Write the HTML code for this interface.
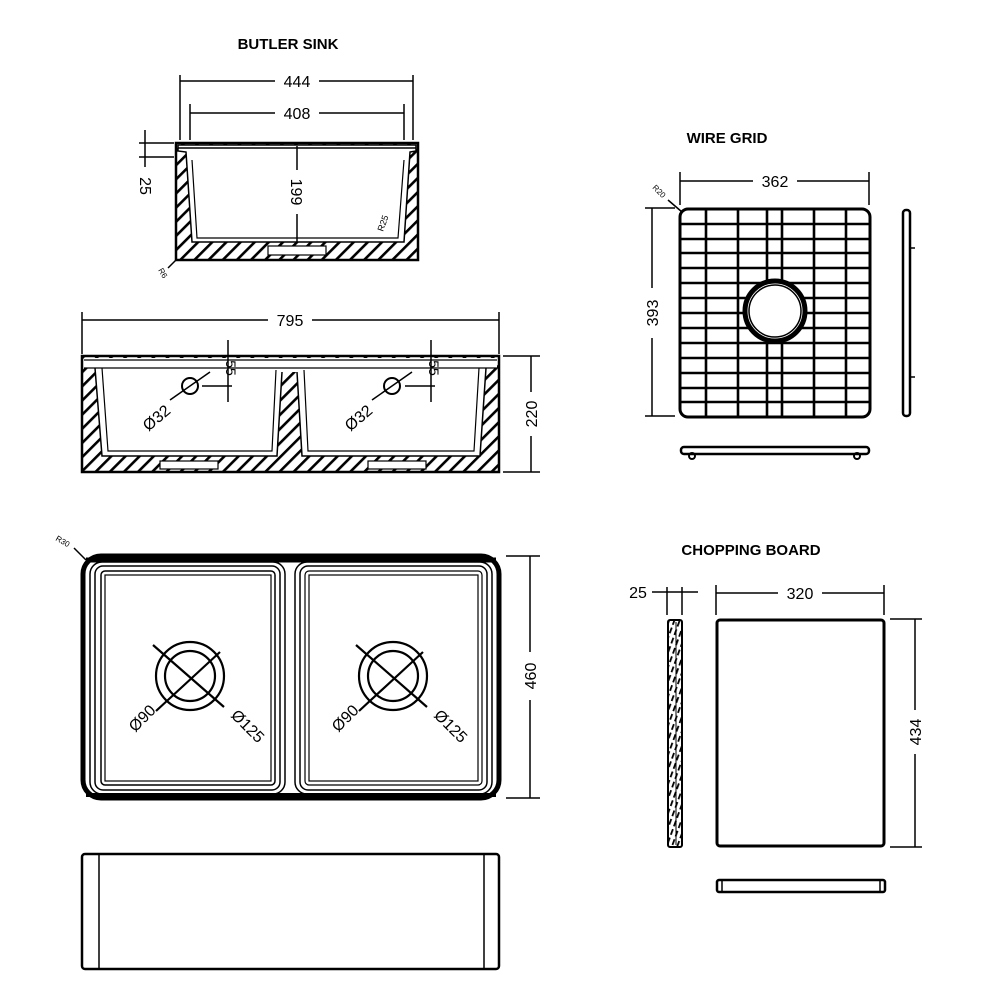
<!DOCTYPE html>
<html><head><meta charset="utf-8"><style>
html,body{margin:0;padding:0;background:#fff;}
svg{display:block;}
text{font-family:"Liberation Sans",Arial,sans-serif;fill:#000;}
</style></head><body>
<svg width="1000" height="1000" viewBox="0 0 1000 1000" xmlns="http://www.w3.org/2000/svg">
<defs>
<pattern id="h" width="10" height="10" patternUnits="userSpaceOnUse" patternTransform="rotate(45)">
<rect width="10" height="10" fill="#fff"/><rect x="0" y="0" width="2.6" height="10" fill="#000"/>
</pattern>
<pattern id="h2" width="5" height="9" patternUnits="userSpaceOnUse" patternTransform="rotate(20)">
<rect width="5" height="9" fill="#fff"/><rect x="0" y="0" width="1.8" height="6" fill="#000"/>
</pattern>
</defs>
<g stroke="#000" fill="none" stroke-width="1.5">

<text x="288" y="49" font-size="15" font-weight="bold" text-anchor="middle" stroke="none">BUTLER SINK</text>
<text x="727" y="143" font-size="15" font-weight="bold" text-anchor="middle" stroke="none">WIRE GRID</text>
<text x="751" y="555" font-size="15" font-weight="bold" text-anchor="middle" stroke="none">CHOPPING BOARD</text>

<g font-size="16">
<!-- ===== Butler single section ===== -->
<line x1="180" y1="75" x2="180" y2="140"/><line x1="413" y1="75" x2="413" y2="140"/>
<line x1="180" y1="81" x2="275" y2="81"/><line x1="319" y1="81" x2="413" y2="81"/>
<text x="297" y="87" text-anchor="middle" stroke="none">444</text>
<line x1="190" y1="104" x2="190" y2="140"/><line x1="404" y1="104" x2="404" y2="140"/>
<line x1="190" y1="113" x2="275" y2="113"/><line x1="319" y1="113" x2="404" y2="113"/>
<text x="297" y="119" text-anchor="middle" stroke="none">408</text>
<rect x="176" y="143" width="242" height="117" fill="url(#h)" stroke-width="2.5"/>
<path d="M178,145 L416,145 L416,151 L410,152 L404,242 L192,242 L186,152 L178,151 Z" fill="#fff" stroke-width="1.5"/>
<line x1="178" y1="148" x2="416" y2="148"/>
<path d="M192,160 L197,238 L398,238 L404,160" stroke-width="1.2"/>
<rect x="268" y="246" width="58" height="9" fill="#fff" stroke-width="1.2"/>
<line x1="297" y1="146" x2="297" y2="170"/><line x1="297" y1="214" x2="297" y2="242"/>
<text transform="translate(291,192) rotate(90)" text-anchor="middle" stroke="none">199</text>
<line x1="145" y1="130" x2="145" y2="167"/><line x1="139" y1="143" x2="174" y2="143"/><line x1="139" y1="157" x2="174" y2="157"/>
<text transform="translate(140,186) rotate(90)" text-anchor="middle" stroke="none">25</text>
<text transform="translate(383,232) rotate(-70)" font-size="9" stroke="none">R25</text>
<line x1="176" y1="260" x2="168" y2="268"/>
<text transform="translate(158,270) rotate(60)" font-size="8" stroke="none">R6</text>

<!-- ===== Double section ===== -->
<line x1="82" y1="312" x2="82" y2="354"/><line x1="499" y1="312" x2="499" y2="354"/>
<line x1="82" y1="320" x2="268" y2="320"/><line x1="312" y1="320" x2="499" y2="320"/>
<text x="290" y="326" text-anchor="middle" stroke="none">795</text>
<rect x="82" y="356" width="417" height="116" fill="url(#h)" stroke-width="2.5"/>
<path d="M84,358 L497,358 L497,368 L486,368 L480,456 L302,456 L297,372 L282,372 L277,456 L102,456 L95,368 L84,368 Z" fill="#fff" stroke="none"/>
<line x1="84" y1="368" x2="497" y2="368" stroke-width="1.2"/>
<line x1="84" y1="360" x2="497" y2="360" stroke-width="1.2"/>
<path d="M95,368 L102,456 L277,456 L282,372" stroke-width="1.5"/>
<path d="M102,368 L108,451 L272,451 L276,370" stroke-width="1.2"/>
<path d="M297,372 L302,456 L480,456 L486,368" stroke-width="1.5"/>
<path d="M304,370 L308,451 L474,451 L479,368" stroke-width="1.2"/>
<rect x="160" y="461" width="58" height="8" fill="#fff" stroke-width="1.2"/>
<rect x="368" y="461" width="58" height="8" fill="#fff" stroke-width="1.2"/>
<circle cx="190" cy="386" r="8" fill="#fff" stroke-width="2"/>
<circle cx="392" cy="386" r="8" fill="#fff" stroke-width="2"/>
<line x1="170" y1="400" x2="210" y2="372"/><line x1="372" y1="400" x2="412" y2="372"/>
<line x1="228" y1="340" x2="228" y2="402"/><line x1="202" y1="386" x2="232" y2="386"/>
<line x1="431" y1="340" x2="431" y2="402"/><line x1="405" y1="386" x2="435" y2="386"/>
<text transform="translate(226,368) rotate(90)" font-size="14" text-anchor="middle" stroke="none">55</text>
<text transform="translate(429,368) rotate(90)" font-size="14" text-anchor="middle" stroke="none">55</text>
<text transform="translate(160,422) rotate(-40)" text-anchor="middle" stroke="none">Ø32</text>
<text transform="translate(362,422) rotate(-40)" text-anchor="middle" stroke="none">Ø32</text>
<line x1="503" y1="356" x2="540" y2="356"/><line x1="503" y1="472" x2="540" y2="472"/>
<line x1="531" y1="356" x2="531" y2="392"/><line x1="531" y1="436" x2="531" y2="472"/>
<text transform="translate(537,414) rotate(-90)" text-anchor="middle" stroke="none">220</text>

<!-- ===== Top view ===== -->
<text transform="translate(55,540) rotate(30)" font-size="8" stroke="none">R30</text>
<line x1="74" y1="548" x2="86" y2="560"/>
<rect x="83" y="556" width="416" height="242" rx="18" stroke-width="5"/>
<line x1="86" y1="560" x2="496" y2="560" stroke-width="5"/>
<line x1="86" y1="795" x2="496" y2="795" stroke-width="4"/>
<rect x="90" y="562" width="195" height="232" rx="12" stroke-width="1.5"/>
<rect x="95" y="566" width="185" height="224" rx="8" stroke-width="1.5"/>
<rect x="101" y="571" width="174" height="214" rx="4" stroke-width="1.5"/>
<rect x="105" y="575" width="166" height="206" stroke-width="1.2"/>
<rect x="295" y="562" width="197" height="232" rx="12" stroke-width="1.5"/>
<rect x="300" y="566" width="187" height="224" rx="8" stroke-width="1.5"/>
<rect x="305" y="571" width="177" height="214" rx="4" stroke-width="1.2"/>
<rect x="309" y="575" width="169" height="206" stroke-width="1.2"/>
<g stroke-width="2.2">
<circle cx="190" cy="676" r="34"/><circle cx="190" cy="676" r="25"/>
<line x1="153" y1="645" x2="224" y2="707"/><line x1="156" y1="711" x2="220" y2="652"/>
<circle cx="393" cy="676" r="34"/><circle cx="393" cy="676" r="25"/>
<line x1="356" y1="645" x2="427" y2="707"/><line x1="359" y1="711" x2="423" y2="652"/>
</g>
<text transform="translate(146,722) rotate(-45)" text-anchor="middle" stroke="none">Ø90</text>
<text transform="translate(244,730) rotate(45)" text-anchor="middle" stroke="none">Ø125</text>
<text transform="translate(349,722) rotate(-45)" text-anchor="middle" stroke="none">Ø90</text>
<text transform="translate(447,730) rotate(45)" text-anchor="middle" stroke="none">Ø125</text>
<line x1="506" y1="556" x2="540" y2="556"/><line x1="506" y1="798" x2="540" y2="798"/>
<line x1="530" y1="556" x2="530" y2="652"/><line x1="530" y1="700" x2="530" y2="798"/>
<text transform="translate(536,676) rotate(-90)" text-anchor="middle" stroke="none">460</text>

<rect x="82" y="854" width="417" height="115" rx="3" stroke-width="2.5"/>
<line x1="99" y1="855" x2="99" y2="968"/><line x1="484" y1="855" x2="484" y2="968"/>

<!-- ===== Wire grid ===== -->
<line x1="680" y1="172" x2="680" y2="205"/><line x1="869" y1="172" x2="869" y2="205"/>
<line x1="680" y1="181" x2="753" y2="181"/><line x1="797" y1="181" x2="869" y2="181"/>
<text x="775" y="187" text-anchor="middle" stroke="none">362</text>
<text transform="translate(652,188) rotate(45)" font-size="8" stroke="none">R20</text>
<line x1="668" y1="200" x2="682" y2="212"/>
<line x1="645" y1="208" x2="675" y2="208"/><line x1="645" y1="416" x2="675" y2="416"/>
<line x1="652" y1="208" x2="652" y2="288"/><line x1="652" y1="338" x2="652" y2="416"/>
<text transform="translate(658,313) rotate(-90)" text-anchor="middle" stroke="none">393</text>
<rect x="680" y="209" width="190" height="208" rx="8" stroke-width="3"/>
<g stroke-width="2.6">
<line x1="681" y1="224" x2="869" y2="224"/><line x1="681" y1="239" x2="869" y2="239"/>
<line x1="681" y1="253" x2="869" y2="253"/><line x1="681" y1="268" x2="869" y2="268"/>
<line x1="681" y1="283" x2="869" y2="283"/><line x1="681" y1="298" x2="869" y2="298"/>
<line x1="681" y1="313" x2="869" y2="313"/><line x1="681" y1="328" x2="869" y2="328"/>
<line x1="681" y1="343" x2="869" y2="343"/><line x1="681" y1="358" x2="869" y2="358"/>
<line x1="681" y1="373" x2="869" y2="373"/><line x1="681" y1="388" x2="869" y2="388"/>
<line x1="681" y1="402" x2="869" y2="402"/>
<line x1="706" y1="210" x2="706" y2="416"/><line x1="738" y1="210" x2="738" y2="416"/>
<line x1="767" y1="210" x2="767" y2="416"/><line x1="782" y1="210" x2="782" y2="416"/>
<line x1="814" y1="210" x2="814" y2="416"/><line x1="846" y1="210" x2="846" y2="416"/>
</g>
<circle cx="775" cy="311" r="30" fill="#fff" stroke-width="5"/>
<circle cx="775" cy="311" r="26" fill="#fff" stroke-width="1.5"/>
<rect x="903" y="210" width="7" height="206" rx="3" stroke-width="2.5"/>
<line x1="910" y1="248" x2="915" y2="248"/><line x1="910" y1="377" x2="915" y2="377"/>
<rect x="681" y="447" width="188" height="7" rx="3" stroke-width="2.5"/>
<circle cx="692" cy="456" r="3" stroke-width="2"/><circle cx="857" cy="456" r="3" stroke-width="2"/>

<!-- ===== Chopping board ===== -->
<line x1="667" y1="587" x2="667" y2="615"/><line x1="682" y1="587" x2="682" y2="615"/>
<line x1="652" y1="592" x2="698" y2="592"/>
<text x="638" y="598" text-anchor="middle" stroke="none">25</text>
<rect x="668" y="620" width="14" height="227" rx="2" fill="url(#h2)" stroke-width="2"/>
<line x1="676" y1="622" x2="676" y2="845" stroke-width="1"/>
<line x1="716" y1="585" x2="716" y2="615"/><line x1="884" y1="585" x2="884" y2="615"/>
<line x1="716" y1="593" x2="778" y2="593"/><line x1="822" y1="593" x2="884" y2="593"/>
<text x="800" y="599" text-anchor="middle" stroke="none">320</text>
<rect x="717" y="620" width="167" height="226" rx="3" stroke-width="3"/>
<line x1="890" y1="619" x2="922" y2="619"/><line x1="890" y1="847" x2="922" y2="847"/>
<line x1="915" y1="619" x2="915" y2="710"/><line x1="915" y1="754" x2="915" y2="847"/>
<text transform="translate(921,732) rotate(-90)" text-anchor="middle" stroke="none">434</text>
<rect x="717" y="880" width="168" height="12" rx="2" stroke-width="2.5"/>
<line x1="722" y1="881" x2="722" y2="891"/><line x1="880" y1="881" x2="880" y2="891"/>
</g>
</g>
</svg>
</body></html>
